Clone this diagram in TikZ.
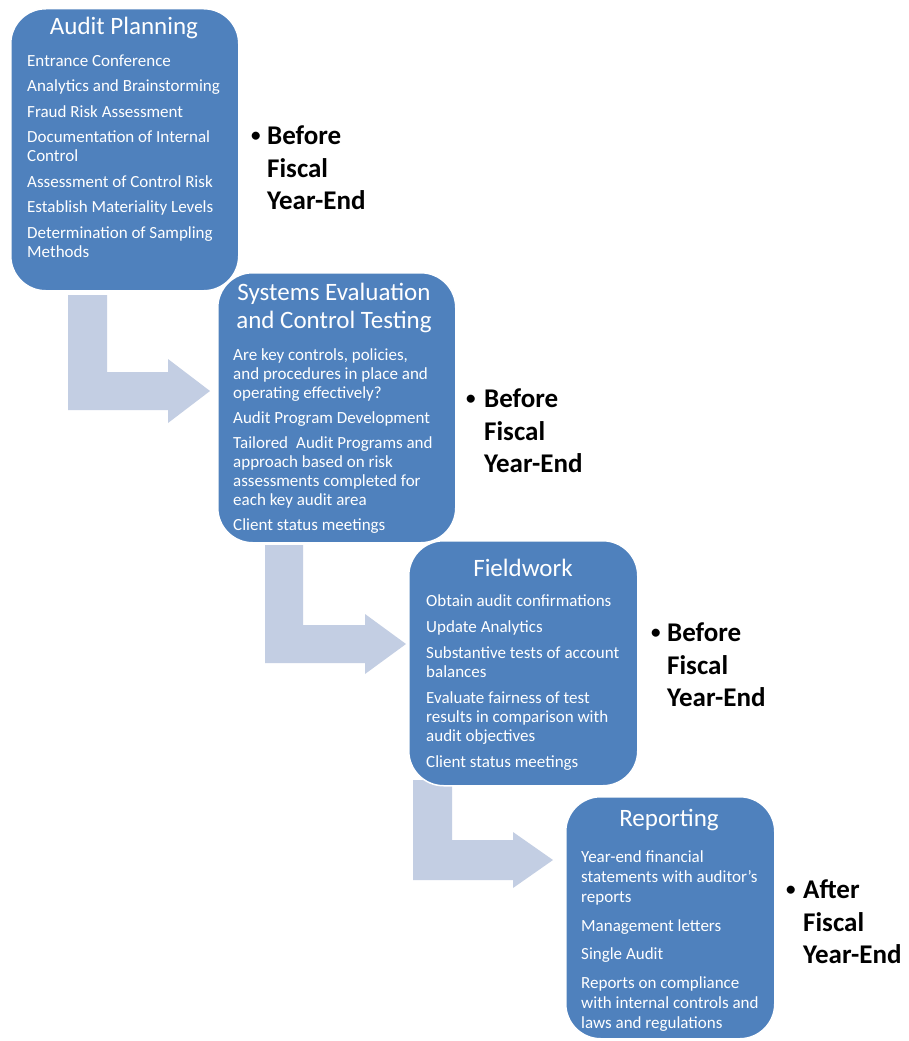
\documentclass[tikz,border=0pt]{standalone}
\usepackage{fontspec}
\setmainfont{Carlito}
\definecolor{boxblue}{HTML}{4F81BD}
\definecolor{arrowblue}{HTML}{C3CEE3}
\tikzset{
  stagebox/.style={fill=boxblue, draw=white, line width=1.5pt, rounded corners=35pt, anchor=north west, inner sep=0},
  flowarrow/.style={fill=arrowblue, draw=none},
  boxtitle/.style={text=white, font=\fontsize{25}{28}\selectfont, align=center, inner sep=0},
  boxbody/.style={text=white, font=\fontsize{17}{19}\selectfont, align=left, anchor=north west, inner sep=0},
  timelabel/.style={font=\bfseries\fontsize{27}{32.5}\selectfont, align=left, anchor=north west, inner sep=0},
}
\newcommand{\bul}[1]{\makebox[#1][l]{\hspace*{1pt}\raisebox{3pt}{\fontsize{19}{19}\selectfont •}}}
\begin{document}
\begin{tikzpicture}[x=1pt,y=-1pt]
\useasboundingbox (0,0) rectangle (908,1041);
\fill[white] (0,0) rectangle (908,1041);
% block arrows
\fill[flowarrow] (68,295) -- (107,295) -- (107,372) -- (168,372) -- (168,359) -- (210,391) -- (168,423) -- (168,410) -- (68,410) -- cycle;
\fill[flowarrow] (265,545) -- (303,545) -- (303,625) -- (365,625) -- (365,614) -- (406,644) -- (365,674) -- (365,663) -- (265,663) -- cycle;
\fill[flowarrow] (413,780) -- (452,780) -- (452,840) -- (513,840) -- (513,832) -- (553,860) -- (513,888) -- (513,880) -- (413,880) -- cycle;
% boxes
\node[stagebox, minimum width=228pt, minimum height=282pt] (b1) at (10,8) {};
\node[stagebox, minimum width=238pt, minimum height=270pt] (b2) at (217,272) {};
\node[stagebox, minimum width=229pt, minimum height=245pt] (b3) at (408,540) {};
\node[stagebox, minimum width=209pt, minimum height=242pt] (b4) at (565,796) {};
% titles
\node[boxtitle] (t1) at (124,28) {Audit Planning};
\node[boxtitle] (t2) at (334,308) {Systems Evaluation\\and Control Testing};
\node[boxtitle] (t3) at (523,568) {Fieldwork};
\node[boxtitle] (t4) at (669,820) {Reporting};
% bodies
\node[boxbody] (c1) at (27,54.5) {Entrance Conference\\[6.5pt]
Analytics and Brainstorming\\[6.5pt]
Fraud Risk Assessment\\[6.5pt]
Documentation of Internal\\
Control\\[6.5pt]
Assessment of Control Risk\\[6.5pt]
Establish Materiality Levels\\[6.5pt]
Determination of Sampling\\
Methods};
\node[boxbody] (c2) at (233,348.5) {Are key controls, policies,\\
and procedures in place and\\
operating effectively?\\[6pt]
Audit Program Development\\[6pt]
Tailored\hspace{0.25em} Audit Programs and\\
approach based on risk\\
assessments completed for\\
each key audit area\\[6pt]
Client status meetings};
\node[boxbody] (c3) at (426,594.5) {Obtain audit confirmations\\[7pt]
Update Analytics\\[7pt]
Substantive tests of account\\
balances\\[7pt]
Evaluate fairness of test\\
results in comparison with\\
audit objectives\\[7pt]
Client status meetings};
\node[boxbody, font=\fontsize{17}{20}\selectfont] (c4) at (581,850.5) {Year-end financial\\
statements with auditor's\\
reports\\[8.5pt]
Management letters\\[8.5pt]
Single Audit\\[8.5pt]
Reports on compliance\\
with internal controls and\\
laws and regulations};
% time labels
\node[timelabel] (l1) at (250,126) {\bul{17pt}Before\\\hspace*{17pt}Fiscal\\\hspace*{17pt}Year-End};
\node[timelabel] (l2) at (465,389) {\bul{19pt}Before\\\hspace*{19pt}Fiscal\\\hspace*{19pt}Year-End};
\node[timelabel] (l3) at (650,623) {\bul{17pt}Before\\\hspace*{17pt}Fiscal\\\hspace*{17pt}Year-End};
\node[timelabel] (l4) at (785,880) {\bul{18pt}After\\\hspace*{18pt}Fiscal\\\hspace*{18pt}Year-End};
\end{tikzpicture}
\end{document}
